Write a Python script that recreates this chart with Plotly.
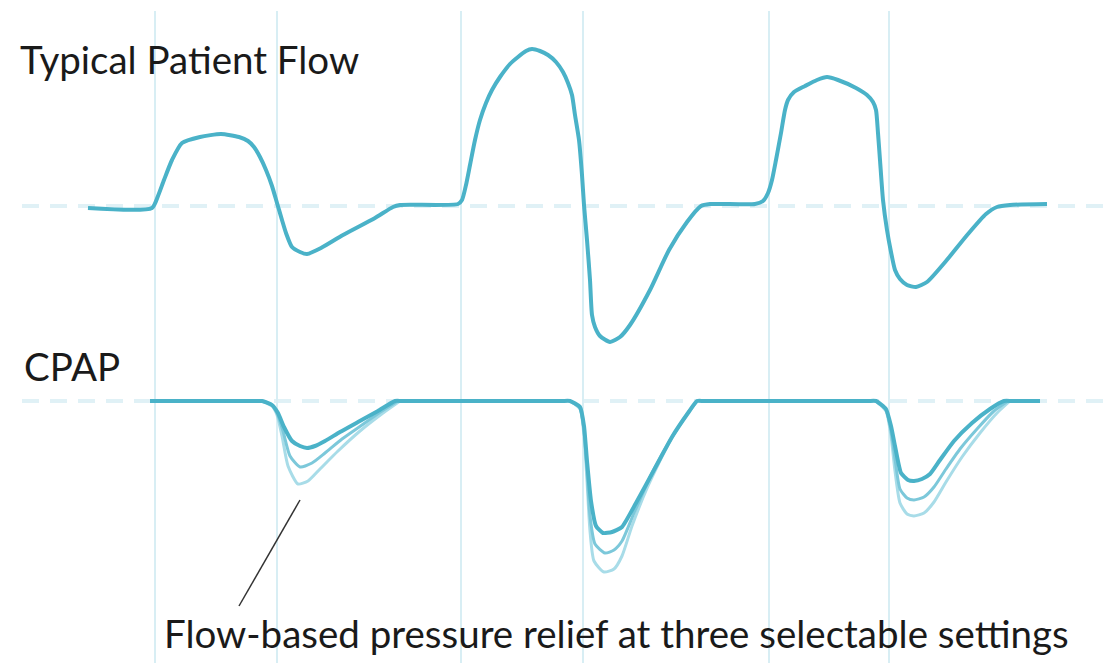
import plotly.graph_objects as go

# ---- data ----
# time axis (arbitrary units) and typical patient flow (positive = inspiration)
flow_t = [88, 152, 158, 164, 172, 182, 200, 221, 239, 248, 254, 260, 266, 272, 277, 282, 286, 292, 300, 307,
          321, 343, 375, 393, 400, 458, 462, 466, 470, 475, 480, 486, 492, 500, 510, 518, 526, 532, 540, 548,
          556, 563, 568, 572, 575, 579, 582, 584, 587, 590, 592, 595, 600, 610, 620, 630, 650, 669, 687, 701,
          710, 755, 763, 768, 772, 776, 781, 785, 788, 794, 805, 817, 827, 838, 856, 867, 873, 876, 878, 880,
          883, 887, 891, 895, 900, 907, 916, 927, 946, 968, 986, 997, 1010, 1047]
flow_v = [-2, -2, 10, 26, 46, 63, 69, 72, 69, 65, 59, 49, 36, 20, 3, -14, -27, -41, -46, -48,
          -42, -29, -12, -1, 1, 2, 6, 21, 41, 66, 86, 103, 116, 129, 142, 149, 155, 157, 155, 151,
          144, 134, 123, 111, 91, 66, 31, 1, -34, -74, -109, -121, -130, -136, -131, -119, -84, -44, -16, 0,
          2, 2, 5, 13, 26, 46, 73, 96, 106, 114, 120, 126, 129, 126, 118, 111, 104, 96, 73, 46,
          6, -24, -46, -64, -73, -79, -81, -76, -55, -28, -8, -1, 1, 2]

# CPAP pressure level and flow-based pressure relief (drop below CPAP level) at three settings
cpap_level = -195
cpap_start_t = [150, 200, 255]
cpap_gap_t = [[402, 480, 562], [704, 790, 868]]
cpap_end_t = [1012, 1040]

relief1_t = [[262, 272, 278, 284, 292, 300, 307, 315, 325, 340, 358, 378, 395],
             [570, 580, 584, 587, 591, 596, 603, 612, 622, 636, 654, 672, 688, 697],
             [876, 886, 891, 895, 901, 908, 914, 922, 930, 940, 954, 972, 990, 1004]]
relief1_v = [[0, 4, 12, 26, 40, 45, 47, 45, 40, 31, 21, 10, 0],
             [0, 6, 25, 60, 100, 125, 132, 131, 126, 102, 69, 36, 12, 0],
             [0, 8, 25, 45, 72, 79, 80, 78, 73, 59, 40, 22, 8, 0]]

relief2_t = [[262, 272, 277, 283, 290, 300, 312, 325, 342, 362, 382, 398],
             [570, 580, 584, 587, 590, 595, 605, 614, 622, 634, 652, 672, 688, 697],
             [876, 886, 891, 895, 900, 907, 914, 924, 934, 946, 960, 977, 994, 1008]]
relief2_v = [[0, 4, 12, 30, 55, 66, 62, 52, 38, 24, 10, 0],
             [0, 7, 30, 70, 115, 143, 152, 149, 140, 112, 72, 36, 12, 0],
             [0, 9, 30, 58, 88, 97, 99, 96, 86, 68, 48, 28, 10, 0]]

relief3_t = [[262, 272, 277, 282, 288, 298, 308, 320, 338, 360, 383, 400],
             [570, 580, 584, 587, 590, 594, 604, 614, 622, 632, 648, 670, 688, 697],
             [876, 886, 891, 895, 900, 907, 914, 924, 934, 946, 962, 980, 997, 1010]]
relief3_v = [[0, 5, 14, 35, 65, 83, 80, 68, 50, 30, 12, 0],
             [0, 8, 35, 80, 130, 160, 171, 168, 155, 125, 85, 40, 12, 0],
             [0, 10, 35, 70, 102, 113, 115, 112, 101, 81, 56, 32, 12, 0]]

phase_marks = [155, 277, 461, 583, 769, 889]

title_flow = "Typical Patient Flow"
title_cpap = "CPAP"
caption = "Flow-based pressure relief at three selectable settings"

# ---- styling ----
DARK = "rgb(74,178,200)"
MID = "rgb(124,200,218)"
LIGHT = "rgb(168,220,232)"
GRID = "#d8eef4"
DASH = "#e0f1f6"
FONT = "Lato"
FSIZE = 38.5
# the page body has an 8px margin; the figure is sized/ranged so that one unit = one screen pixel
PAGE_OFF = 8


def joined(ts, vs):
    xs, ys = [], []
    for t, v in zip(ts, vs):
        xs += list(t) + [None]
        ys += [cpap_level - r for r in v] + [None]
    return xs, ys


fig = go.Figure()

for ts, vs, col in [(relief3_t, relief3_v, LIGHT), (relief2_t, relief2_v, MID)]:
    xs, ys = joined(ts, vs)
    fig.add_trace(go.Scatter(x=xs, y=ys, mode="lines", connectgaps=False,
                             line=dict(color=col, width=3, shape="spline", smoothing=0.6),
                             hoverinfo="skip", showlegend=False))

# CPAP main line with the smallest relief
cx = list(cpap_start_t)
cy = [cpap_level] * len(cpap_start_t)
for i, (t, v) in enumerate(zip(relief1_t, relief1_v)):
    cx += t
    cy += [cpap_level - r for r in v]
    if i < len(cpap_gap_t):
        cx += cpap_gap_t[i]
        cy += [cpap_level] * len(cpap_gap_t[i])
cx += cpap_end_t
cy += [cpap_level] * len(cpap_end_t)
fig.add_trace(go.Scatter(x=cx, y=cy, mode="lines",
                         line=dict(color=DARK, width=4, shape="spline", smoothing=0.5),
                         hoverinfo="skip", showlegend=False))

fig.add_trace(go.Scatter(x=flow_t, y=flow_v, mode="lines",
                         line=dict(color=DARK, width=4, shape="spline", smoothing=0.6),
                         hoverinfo="skip", showlegend=False))

# dashed reference levels
for lvl in [0, cpap_level]:
    fig.add_shape(type="line", x0=22, x1=1115, y0=lvl, y1=lvl, xref="x", yref="y",
                  layer="below", line=dict(color=DASH, width=4, dash="17px,11px"))

# pointer line for caption
fig.add_shape(type="line", x0=300, y0=-294, x1=239, y1=-400, xref="x", yref="y",
              line=dict(color="#333333", width=1.5))

fig.add_annotation(x=18, y=147, xref="x", yref="y", text=title_flow, showarrow=False,
                   xanchor="left", yanchor="middle", font=dict(family=FONT, size=FSIZE, color="#1a1a1a"))
fig.add_annotation(x=22, y=-160, xref="x", yref="y", text=title_cpap, showarrow=False,
                   xanchor="left", yanchor="middle", font=dict(family=FONT, size=FSIZE, color="#1a1a1a"))
fig.add_annotation(x=162, y=-427, xref="x", yref="y", text=caption, showarrow=False,
                   xanchor="left", yanchor="middle", font=dict(family=FONT, size=FSIZE, color="#1a1a1a"))

fig.update_layout(
    width=1115 - PAGE_OFF, height=663 - PAGE_OFF,
    margin=dict(l=0, r=0, t=11 - PAGE_OFF, b=0),
    paper_bgcolor="white", plot_bgcolor="white",
    xaxis=dict(range=[PAGE_OFF, 1115], tickvals=phase_marks, showticklabels=False, ticks="",
               showgrid=True, gridcolor=GRID, gridwidth=2, zeroline=False, showline=False, fixedrange=True),
    yaxis=dict(range=[-457, 195], showgrid=False, showticklabels=False, ticks="",
               zeroline=False, showline=False, fixedrange=True),
)

fig.write_html("out.html")
